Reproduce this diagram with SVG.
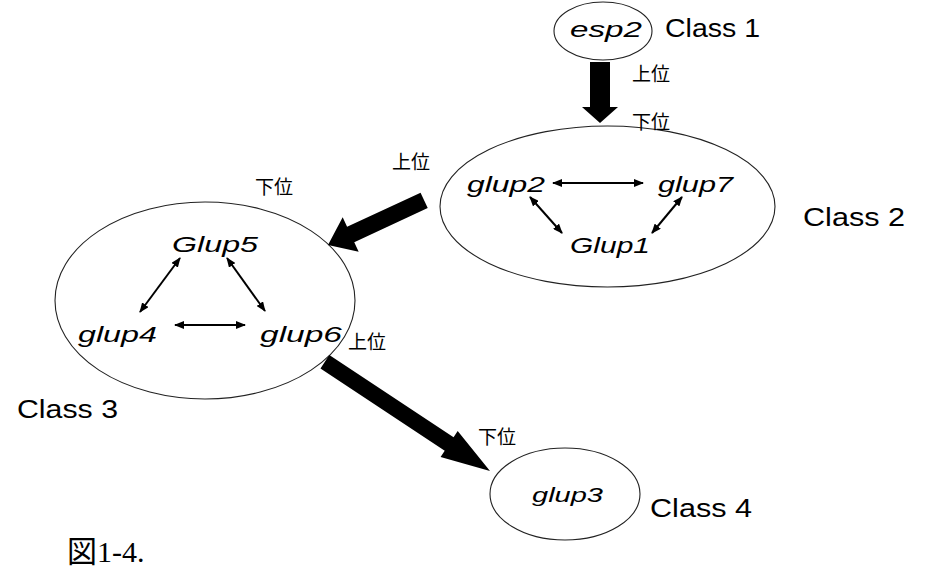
<svg xmlns="http://www.w3.org/2000/svg" width="929" height="576" viewBox="0 0 929 576">
<defs>
<marker id="ah" viewBox="0 0 10 8" refX="9" refY="4" markerWidth="10" markerHeight="8" markerUnits="userSpaceOnUse" orient="auto-start-reverse">
<path d="M0,0 L10,4 L0,8 Z" fill="#000"/>
</marker>
<style>
.ell{fill:#fff;stroke:#222;stroke-width:1.1}
.gene{font-family:"Liberation Sans",Arial,sans-serif;font-style:italic;font-size:22px;fill:#000}
.cls{font-family:"Liberation Sans",Arial,sans-serif;font-size:26px;fill:#000}
.jp{font-family:"Noto Sans CJK JP","Noto Sans CJK SC",sans-serif;font-size:19px;fill:#000}
.dbl{stroke:#000;stroke-width:2;fill:none;marker-start:url(#ah);marker-end:url(#ah)}
.big{fill:#000;stroke:none}
</style>
</defs>
<rect width="929" height="576" fill="#fff"/>

<g id="class1">
<ellipse class="ell" cx="603" cy="31" rx="49" ry="29"/>
<text class="gene" x="570" y="37" textLength="72" lengthAdjust="spacingAndGlyphs">esp2</text>
<text class="cls" x="665" y="37" textLength="95" lengthAdjust="spacingAndGlyphs">Class 1</text>
</g>

<g id="class2">
<ellipse class="ell" cx="607.5" cy="206.5" rx="167.5" ry="80.5"/>
<text class="gene" x="467" y="192" textLength="78" lengthAdjust="spacingAndGlyphs">glup2</text>
<text class="gene" x="658" y="192" textLength="75" lengthAdjust="spacingAndGlyphs">glup7</text>
<text class="gene" x="570" y="253" textLength="80" lengthAdjust="spacingAndGlyphs">Glup1</text>
<text class="cls" x="803" y="226" textLength="102" lengthAdjust="spacingAndGlyphs">Class 2</text>
</g>

<g id="class3">
<ellipse class="ell" cx="205" cy="300.5" rx="150" ry="98.5"/>
<text class="gene" x="172" y="252" textLength="86" lengthAdjust="spacingAndGlyphs">Glup5</text>
<text class="gene" x="78" y="342" textLength="79" lengthAdjust="spacingAndGlyphs">glup4</text>
<text class="gene" x="260" y="342" textLength="82" lengthAdjust="spacingAndGlyphs">glup6</text>
<text class="cls" x="17" y="418" textLength="101" lengthAdjust="spacingAndGlyphs">Class 3</text>
</g>

<g id="class4">
<ellipse class="ell" cx="565" cy="494" rx="75" ry="46"/>
<text class="gene" x="532" y="502" textLength="71" lengthAdjust="spacingAndGlyphs" style="font-size:20px">glup3</text>
<text class="cls" x="650" y="517" textLength="102" lengthAdjust="spacingAndGlyphs">Class 4</text>
</g>

<g id="connectors">
<line class="dbl" x1="553" y1="183" x2="643" y2="183"/>
<line class="dbl" x1="530" y1="197" x2="562" y2="233"/>
<line class="dbl" x1="682" y1="197" x2="652" y2="233"/>
<line class="dbl" x1="180" y1="258" x2="140" y2="312"/>
<line class="dbl" x1="227" y1="258" x2="265" y2="311"/>
<line class="dbl" x1="175" y1="325" x2="245" y2="325"/>

<polygon class="big" points="590,62 610,62 610,107 618,107 600,123 582,107 590,107"/>
<polygon class="big" transform="translate(328,245) rotate(155.1)" points="0,0 -25,-19 -25,-8.5 -106,-8.5 -106,8.5 -25,8.5 -25,19"/>
<polygon class="big" transform="translate(490,471) rotate(33.5)" points="0,0 -49,-15.5 -49,-8 -198,-8 -198,8 -49,8 -49,15.5"/>

<text class="jp" x="632" y="81">上位</text>
<text class="jp" x="632" y="129">下位</text>
<text class="jp" x="392" y="169">上位</text>
<text class="jp" x="255" y="194">下位</text>
<text class="jp" x="348" y="349">上位</text>
<text class="jp" x="478" y="444">下位</text>
</g>

<text x="67" y="562" style="font-family:'Liberation Serif','Noto Sans CJK JP',serif;font-size:30px">図1-4.</text>
</svg>
